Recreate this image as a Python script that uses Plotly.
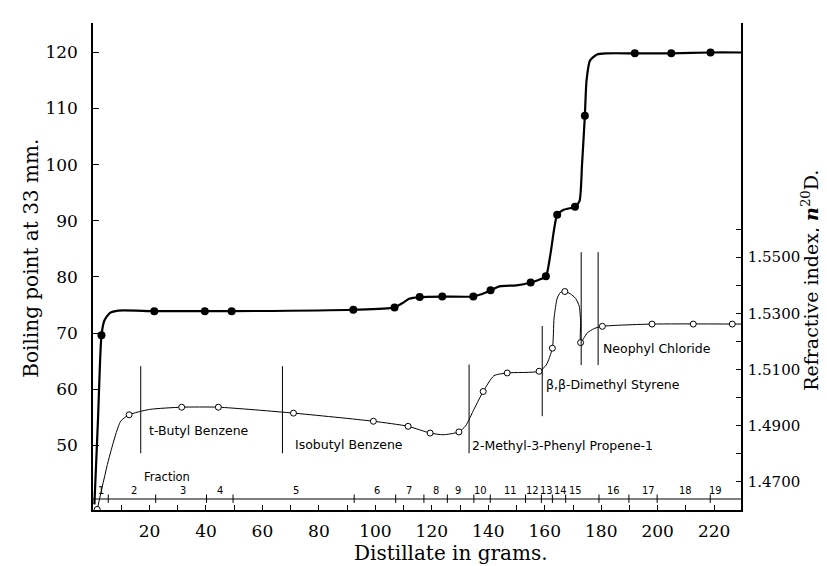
import plotly.graph_objects as go

# ---------------- data ----------------
# Boiling point at 33 mm (filled dots): grams distilled, temperature
bp_grams = [3.0, 21.7, 39.6, 49.1, 92.2, 106.8, 115.7, 123.7, 134.7, 140.8,
            155.0, 160.4, 164.4, 170.7, 174.2, 191.9, 204.8, 218.7]
bp_temp = [69.6, 73.9, 73.9, 73.9, 74.15, 74.56, 76.4, 76.5, 76.5, 77.6,
           79.0, 80.1, 91.05, 92.5, 108.7, 119.8, 119.8, 119.95]
# hand-drawn boiling point curve (path)
bp_path_grams = [0.5, 1.8, 2.5, 3.0, 4.0, 6.0, 9.0, 21.7, 39.6, 49.1, 92.2, 106.8,
                 109.5, 112.0, 115.7, 123.7, 134.7, 137.5, 140.8, 144.0, 150.0,
                 155.0, 158.0, 160.4, 162.0, 164.4, 166.5, 170.7, 172.3, 173.2,
                 174.2, 174.8, 176.0, 178.5, 182.0, 191.9, 204.8, 218.7, 229.5]
bp_path_temp = [39.5, 55.0, 65.0, 69.6, 72.2, 73.6, 74.0, 73.9, 73.9, 73.9, 74.15, 74.56,
                75.3, 76.1, 76.4, 76.5, 76.5, 76.9, 77.6, 78.3, 78.5,
                79.0, 79.5, 80.1, 84.0, 91.05, 91.9, 92.5, 93.5, 100.0,
                108.7, 115.0, 118.5, 119.6, 119.8, 119.8, 119.8, 119.95, 119.95]

# Refractive index n20D (open circles)
ri_grams = [1.5, 12.8, 31.4, 44.4, 71.0, 99.3, 111.6, 119.4, 129.6, 138.2,
            146.7, 158.0, 162.7, 167.1, 172.7, 180.4, 198.0, 212.6, 226.4]
ri_index = [1.4602, 1.4939, 1.4966, 1.4966, 1.4945, 1.4916, 1.4898, 1.4874, 1.4878, 1.5022,
            1.5088, 1.5094, 1.5176, 1.5378, 1.5196, 1.5254, 1.5262, 1.5262, 1.5262]
ri_path_grams = [1.5, 5.7, 9.8, 12.8, 20.0, 31.4, 44.4, 71.0, 99.3, 111.6, 119.4, 124.0,
                 129.6, 132.0, 135.0, 138.2, 142.0, 146.7, 158.0, 160.5, 162.7, 163.3,
                 164.4, 165.5, 167.1, 169.0, 170.9, 172.2, 172.7, 172.7, 175.0, 177.5,
                 180.4, 198.0, 229.5]
ri_path_index = [1.4602, 1.4786, 1.4916, 1.4939, 1.4958, 1.4966, 1.4966, 1.4945, 1.4916,
                 1.4898, 1.4874, 1.4868, 1.4878, 1.4900, 1.4960, 1.5022, 1.5078, 1.5088,
                 1.5094, 1.5116, 1.5176, 1.5284, 1.5354, 1.5374, 1.5378, 1.5370, 1.5354,
                 1.5326, 1.5270, 1.5196, 1.5230, 1.5246, 1.5254, 1.5262, 1.5262]

# fractions
fraction_numbers = [str(i) for i in range(1, 20)]
fraction_label_grams = [2.7, 14.6, 31.7, 45.0, 71.8, 100.7, 111.9, 121.4, 129.3, 137.3,
                        147.9, 155.8, 160.6, 165.4, 170.9, 184.5, 196.9, 209.8, 220.5]
fraction_cut_grams = [5.4, 22.2, 40.2, 49.6, 92.5, 107.2, 117.2, 125.5, 134.9, 140.7,
                      153.2, 158.8, 162.7, 167.4, 179.2, 189.8, 199.8, 218.6]

# compound regions: separator lines (grams, from, to in °C scale) and labels
separator_grams = [16.9, 67.1, 133.2, 159.1, 172.9, 178.9]
separator_low = [48.6, 48.6, 48.6, 55.2, 64.3, 64.3]
separator_high = [64.1, 64.1, 64.4, 71.25, 84.4, 84.4]
compound_names = ["t-Butyl Benzene", "Isobutyl Benzene", "2-Methyl-3-Phenyl Propene-1",
                  "β,β-Dimethyl Styrene", "Neophyl Chloride"]
compound_grams = [19.0, 71.0, 133.6, 159.6, 180.0]
compound_level = [52.6, 50.1, 49.9, 60.9, 67.2]

# axes
x_range = [0, 229.5]
y_range = [38.5, 125.2]
y2_range = [1.46, 1.6334]
grams_ticks = list(range(10, 230, 10))
bp_ticks = [50, 60, 70, 80, 90, 100, 110, 120]
ri_ticks = [1.47, 1.48, 1.49, 1.50, 1.51, 1.52, 1.53, 1.54, 1.55, 1.56]
fraction_line_level = 40.46

# ---------------- figure ----------------
serif = "DejaVu Serif"
sans = "DejaVu Sans"
narrow = "Liberation Sans Narrow, DejaVu Sans Condensed, Liberation Sans"

fig = go.Figure()
fig.add_trace(go.Scatter(x=bp_path_grams, y=bp_path_temp, mode="lines",
                         line=dict(color="black", width=2.2, shape="spline", smoothing=0.6),
                         hoverinfo="skip"))
fig.add_trace(go.Scatter(x=bp_grams, y=bp_temp, mode="markers",
                         marker=dict(color="black", size=8)))
fig.add_trace(go.Scatter(x=ri_path_grams, y=ri_path_index, mode="lines", yaxis="y2",
                         line=dict(color="black", width=1, shape="spline", smoothing=0.6),
                         hoverinfo="skip"))
fig.add_trace(go.Scatter(x=ri_grams, y=ri_index, mode="markers", yaxis="y2",
                         marker=dict(color="white", size=6, line=dict(color="black", width=1))))

shapes = []
shapes.append(dict(type="line", xref="x", yref="y", x0=x_range[0], x1=x_range[1],
                   y0=fraction_line_level, y1=fraction_line_level,
                   line=dict(color="black", width=1.2)))
for g in fraction_cut_grams:
    shapes.append(dict(type="line", xref="x", yref="y", x0=g, x1=g,
                       y0=fraction_line_level - 0.7, y1=fraction_line_level + 0.8,
                       line=dict(color="black", width=1)))
for g, lo, hi in zip(separator_grams, separator_low, separator_high):
    shapes.append(dict(type="line", xref="x", yref="y", x0=g, x1=g, y0=lo, y1=hi,
                       line=dict(color="black", width=1)))

annotations = []
for name, g, lvl in zip(compound_names, compound_grams, compound_level):
    annotations.append(dict(x=g, y=lvl, xref="x", yref="y", text=name, showarrow=False,
                            xanchor="left", yanchor="middle",
                            font=dict(family=sans, size=12.5, color="black")))
for num, g in zip(fraction_numbers, fraction_label_grams):
    annotations.append(dict(x=g, y=fraction_line_level + 1.45, xref="x", yref="y", text=num,
                            showarrow=False, xanchor="center", yanchor="middle", borderpad=0,
                            font=dict(family=narrow, size=11, color="black")))
annotations.append(dict(x=17.3, y=44.3, xref="x", yref="y", text="Fraction", showarrow=False,
                        xanchor="left", yanchor="middle",
                        font=dict(family=sans, size=11.5, color="black")))
annotations.append(dict(x=-0.095, y=0.517, xref="paper", yref="paper",
                        text="Boiling point at 33 mm.", textangle=-90, showarrow=False,
                        xanchor="center", yanchor="middle",
                        font=dict(family=serif, size=20, color="black")))
annotations.append(dict(x=1.106, y=0.472, xref="paper", yref="paper",
                        text="Refractive index, <i><b>n</b></i><sup>20</sup>D.", textangle=-90,
                        showarrow=False, xanchor="center", yanchor="middle",
                        font=dict(family=serif, size=19, color="black")))
annotations.append(dict(x=0.553, y=-0.088, xref="paper", yref="paper",
                        text="Distillate in grams.", showarrow=False,
                        xanchor="center", yanchor="middle",
                        font=dict(family=serif, size=20, color="black")))

fig.update_layout(
    width=827, height=566,
    margin=dict(l=85, r=94, t=15, b=64),
    paper_bgcolor="white", plot_bgcolor="white",
    showlegend=False,
    shapes=shapes, annotations=annotations,
    xaxis=dict(range=x_range, showgrid=False, zeroline=False, showline=True,
               linecolor="black", linewidth=1.5, ticks="inside", ticklen=5,
               tickcolor="black", tickvals=grams_ticks,
               ticktext=[str(v) if v % 20 == 0 else "" for v in grams_ticks],
               tickfont=dict(family=serif, size=17, color="black"), ticklabelstandoff=5),
    yaxis=dict(range=y_range, showgrid=False, zeroline=False, showline=True,
               linecolor="black", linewidth=1.5, ticks="inside", ticklen=6,
               tickcolor="black", tickvals=bp_ticks,
               tickfont=dict(family=serif, size=17, color="black"), ticklabelstandoff=10),
    yaxis2=dict(range=y2_range, overlaying="y", side="right", showgrid=False,
                zeroline=False, showline=True, linecolor="black", linewidth=1.5,
                ticks="inside", ticklen=5, tickcolor="black", tickvals=ri_ticks,
                ticktext=[("%.4f" % v) if round(v * 100) % 2 == 1 else "" for v in ri_ticks],
                tickfont=dict(family=serif, size=15, color="black"), ticklabelstandoff=2),
)

fig.write_html("out.html")
